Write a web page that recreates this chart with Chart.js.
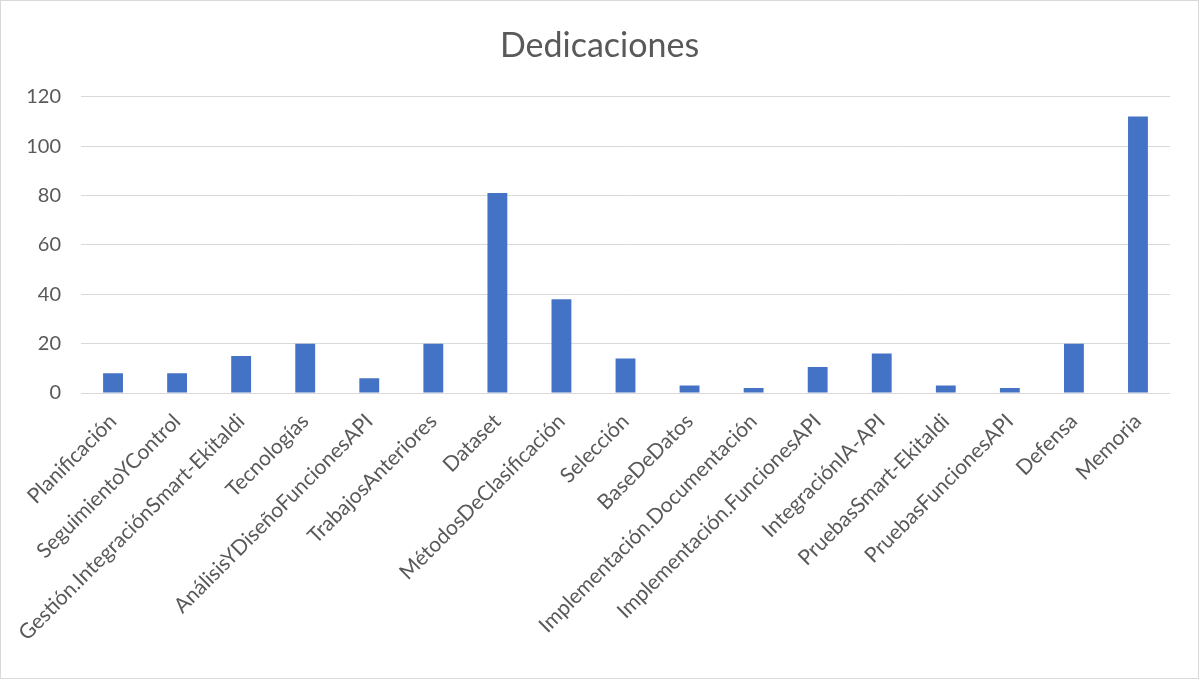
<!DOCTYPE html>
<html>
<head>
<meta charset="utf-8">
<script src="https://cdn.jsdelivr.net/npm/chart.js@4/dist/chart.umd.min.js"></script>
<style>
  html, body { margin: 0; padding: 0; background: #fff; }
  #wrap { width: 1199px; height: 679px; box-sizing: border-box; border: 1px solid #d9d9d9; position: relative; }
  canvas { display: block; }
</style>
</head>
<body>
<div id="wrap"><canvas id="chart" width="1197" height="677"></canvas></div>
<script>
const categories = [
  'Planificación', 'SeguimientoYControl', 'Gestión.IntegraciónSmart-Ekitaldi', 'Tecnologías',
  'AnálisisYDiseñoFuncionesAPI', 'TrabajosAnteriores', 'Dataset', 'MétodosDeClasificación',
  'Selección', 'BaseDeDatos', 'Implementación.Documentación', 'Implementación.FuncionesAPI',
  'IntegraciónIA-API', 'PruebasSmart-Ekitaldi', 'PruebasFuncionesAPI', 'Defensa', 'Memoria',
];
const horas = [8, 8, 15, 20, 6, 20, 81, 38, 14, 3, 2, 10.5, 16, 3, 2, 20, 112];
const yTicks = [0, 20, 40, 60, 80, 100, 120];

const textColor = '#595959';
const font = 'Lato, "Open Sans", sans-serif';

// centre the title on the whole canvas, not only the plot width
const fullWidthTitle = {
  id: 'fullWidthTitle',
  afterLayout(chart) {
    const tb = chart.titleBlock;
    if (!tb) return;
    tb.left = 0;
    tb.right = chart.width;
    tb.width = chart.width;
  },
};

new Chart(document.getElementById('chart'), {
  type: 'bar',
  data: {
    labels: categories,
    datasets: [{ label: 'Dedicaciones', data: horas, backgroundColor: '#4472c4', barPercentage: 0.31, categoryPercentage: 1 }],
  },
  options: {
    responsive: false,
    animation: false,
    layout: { padding: { left: 0, right: 28, top: 0, bottom: 0 } },
    plugins: {
      legend: { display: false },
      tooltip: { enabled: false },
      title: {
        display: true,
        text: 'Dedicaciones',
        color: textColor,
        font: { family: font, size: 34, weight: 'normal', lineHeight: 1.2 },
        padding: { top: 25, bottom: 30 },
      },
    },
    scales: {
      x: {
        grid: { display: false, drawTicks: false },
        border: { display: false },
        ticks: { color: textColor, font: { family: font, size: 21 }, minRotation: 45, maxRotation: 45, padding: 16, autoSkip: false },
        afterFit: (s) => { s.height = 285; },
      },
      y: {
        min: 0,
        max: 120,
        afterBuildTicks: (s) => { s.ticks = yTicks.map((v) => ({ value: v })); },
        grid: { color: '#d9d9d9', drawTicks: false },
        border: { display: false },
        ticks: { color: textColor, font: { family: font, size: 20 }, padding: 20 },
        afterFit: (s) => { s.width = 80; },
      },
    },
  },
  plugins: [fullWidthTitle],
});
</script>
</body>
</html>
